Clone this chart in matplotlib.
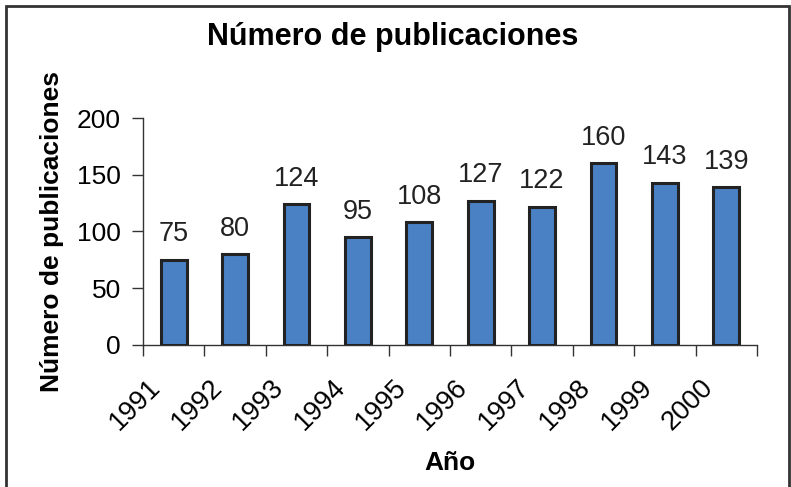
import matplotlib.pyplot as plt
from matplotlib.patches import Rectangle
from matplotlib.transforms import ScaledTranslation

# Datos
anios = ['1991', '1992', '1993', '1994', '1995', '1996', '1997', '1998', '1999', '2000']
publicaciones = [75, 80, 124, 95, 108, 127, 122, 160, 143, 139]

plt.rcParams['font.family'] = ['Liberation Sans', 'DejaVu Sans']

fig = plt.figure(figsize=(7.91, 4.87), dpi=100)
ax = fig.add_axes([0.1808, 0.2916, 0.7762, 0.4661])

pos = list(range(len(anios)))
ax.bar(pos, publicaciones, width=0.42, color='#4a80c4', edgecolor='#222222', linewidth=2.2, zorder=3)

for x, v in zip(pos, publicaciones):
    ax.annotate(str(v), (x, v), xytext=(0, 9), textcoords='offset points',
                ha='center', va='bottom', fontsize=19.5, color='#222222')

ax.set_xlim(-0.5, len(anios) - 0.5)
ax.set_ylim(0, 200)
ax.set_yticks([0, 50, 100, 150, 200])
ax.set_xticks([p - 0.5 for p in range(len(anios) + 1)])
ax.set_xticklabels([])
ax.set_xticks(pos, minor=True)
ax.set_xticklabels(anios, minor=True, rotation=45, ha='right', rotation_mode='anchor', fontsize=19.5)
ax.tick_params(axis='x', which='minor', length=0, pad=21)
ax.tick_params(axis='x', which='major', length=8, width=1, color='#333333')
ax.tick_params(axis='y', length=8, width=1, color='#333333', labelsize=19, pad=8)

# desplazar etiquetas de los años a la izquierda
desp = ScaledTranslation(-26 / 100, 0, fig.dpi_scale_trans)
for lbl in ax.get_xticklabels(minor=True):
    lbl.set_transform(lbl.get_transform() + desp)

for s in ['top', 'right']:
    ax.spines[s].set_visible(False)
for s in ['left', 'bottom']:
    ax.spines[s].set_color('#333333')
    ax.spines[s].set_linewidth(1)

ax.set_ylabel('Número de publicaciones', fontsize=19, fontweight='bold', va='center')
ax.yaxis.set_label_coords(-0.148, 0.5)
ax.set_xlabel('Año', fontsize=19, fontweight='bold', va='center')
ax.xaxis.set_label_coords(0.5, -(463 - 345) / 227)
fig.text(0.497, 1 - 37 / 487, 'Número de publicaciones', ha='center', va='center', fontsize=22, fontweight='bold')

# Marco
fig.patches.append(Rectangle((0.008, -0.05), 0.99, 1.038, transform=fig.transFigure,
                             fill=False, edgecolor='#333333', linewidth=2))

plt.savefig('out.png', dpi=100)
